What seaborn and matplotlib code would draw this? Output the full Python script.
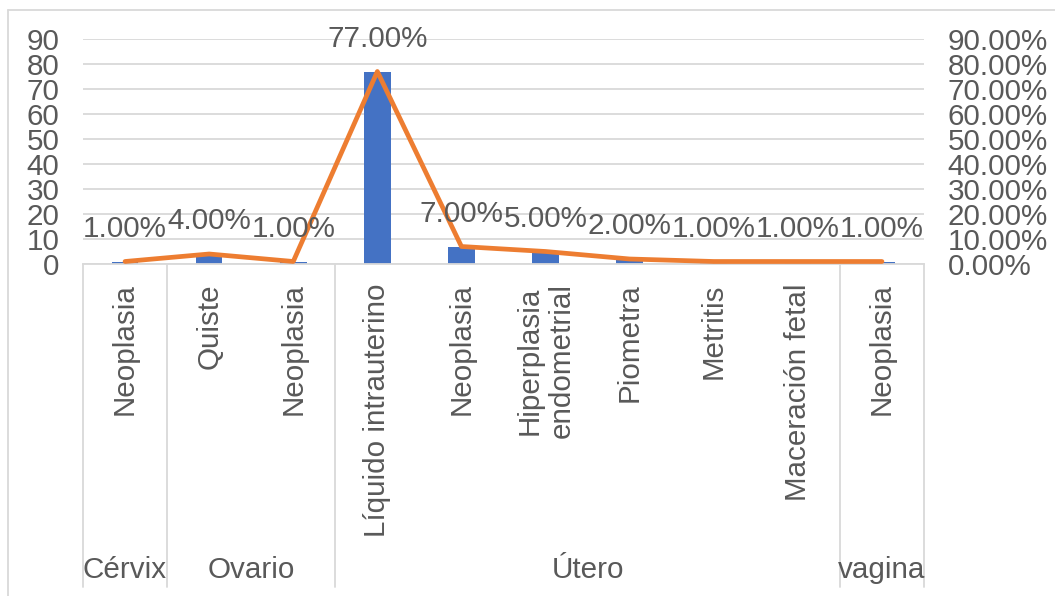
import numpy as np
import pandas as pd
import seaborn as sns
import matplotlib.pyplot as plt
from matplotlib.lines import Line2D
from matplotlib.ticker import FuncFormatter

# Lesions by organ: case counts and share of total
organs = ["Cérvix", "Ovario", "Ovario", "Útero", "Útero", "Útero",
          "Útero", "Útero", "Útero", "vagina"]
lesions = ["Neoplasia", "Quiste", "Neoplasia", "Líquido intrauterino",
           "Neoplasia", "Hiperplasia\nendometrial", "Piometra", "Metritis",
           "Maceración fetal", "Neoplasia"]
cases = [1, 4, 1, 77, 7, 5, 2, 1, 1, 1]
share = [0.01, 0.04, 0.01, 0.77, 0.07, 0.05, 0.02, 0.01, 0.01, 0.01]

BLUE = "#4472C4"
ORANGE = "#ED7D31"
TEXT = "#595959"
GRID = "#D9D9D9"
FS = 21.3

sns.set_theme(style="white")
plt.rcParams["font.family"] = ["Liberation Sans", "DejaVu Sans"]

n = len(cases)
df = pd.DataFrame({"pos": np.arange(n), "cases": cases, "share": share})

W, H = 1055, 596
fig = plt.figure(figsize=(W / 100, H / 100), dpi=100)
x0, x1, ytop, ybot = 83, 924, 39, 264
ax = fig.add_axes([x0 / W, 1 - ybot / H, (x1 - x0) / W, (ybot - ytop) / H])

sns.barplot(data=df, x="pos", y="cases", native_scale=True, width=0.317,
            color=BLUE, saturation=1, linewidth=0, ax=ax, zorder=2)
ax.set_xlim(-0.5, n - 0.5)
ax.set_ylim(0, 90)
ax.set_yticks(np.arange(0, 91, 10))
ax.yaxis.grid(True, color=GRID, lw=1.3, zorder=0)
ax.set_axisbelow(True)
for s in ["top", "right", "left"]:
    ax.spines[s].set_visible(False)
ax.spines["bottom"].set_color(GRID)
ax.spines["bottom"].set_linewidth(1.3)
ax.tick_params(axis="y", length=0, pad=17, labelsize=FS, labelcolor=TEXT)
ax.set_xticks(df["pos"], lesions, rotation=90)
ax.tick_params(axis="x", length=0, pad=14, labelsize=FS, labelcolor=TEXT)
ax.set_xlabel("")
ax.set_ylabel("")

ax2 = ax.twinx()
sns.lineplot(data=df, x="pos", y="share", color=ORANGE, lw=3.4, ax=ax2,
             solid_capstyle="round")
ax2.set_ylim(0, 0.9)
ax2.set_yticks(np.arange(0, 0.91, 0.1))
ax2.yaxis.set_major_formatter(FuncFormatter(lambda v, _: f"{v * 100:.2f}%"))
ax2.tick_params(axis="y", length=0, pad=17, labelsize=FS, labelcolor=TEXT)
ax2.grid(False)
for s in ax2.spines.values():
    s.set_visible(False)
ax2.set_ylabel("")
ax2.set_xlabel("")

# Percentage labels above each point of the line
for x, v in zip(df["pos"], share):
    ax2.annotate(f"{v * 100:.2f}%", (x, v), xytext=(0, 23.5),
                 textcoords="offset points", ha="center", va="center",
                 fontsize=FS, color=TEXT)

# Organ group labels and separators below the lesion labels
tr = ax.get_xaxis_transform()
to_axes = lambda ypix: (ybot - ypix) / (ybot - ytop)
groups = []
for i, org in enumerate(organs):
    if groups and groups[-1][0] == org:
        groups[-1][2] = i
    else:
        groups.append([org, i, i])
bounds = [-0.5] + [g[2] + 0.5 for g in groups]
for b in bounds:
    ax.add_line(Line2D([b, b], [0, to_axes(587)], transform=tr, color=GRID,
                       lw=1.3, clip_on=False))
for org, a, b in groups:
    ax.text((a + b) / 2, to_axes(570), org, transform=tr, ha="center",
            va="center", fontsize=FS, color=TEXT)

# Chart frame
fig.add_artist(Line2D([8 / W, 8 / W], [0, 1 - 10 / H], transform=fig.transFigure,
                      color=GRID, lw=1.3))
fig.add_artist(Line2D([8 / W, 1], [1 - 10 / H, 1 - 10 / H],
                      transform=fig.transFigure, color=GRID, lw=1.3))

fig.savefig("out.png", dpi=100)
